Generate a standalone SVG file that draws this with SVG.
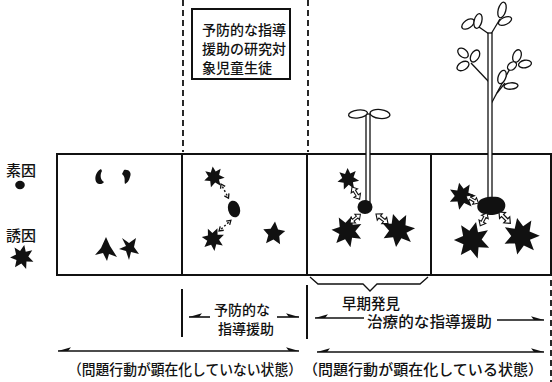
<svg xmlns="http://www.w3.org/2000/svg" width="552" height="382" viewBox="0 0 552 382">
  <style>
    .txt { font-family: "Noto Sans CJK JP", "Noto Sans", sans-serif; fill: #111; font-weight: 500; }
    .frame { fill: none; stroke: #111; stroke-width: 2; }
    .dash { fill: none; stroke: #111; stroke-width: 1.8; stroke-dasharray: 6 4; }
    .thin { fill: none; stroke: #111; stroke-width: 1.3; }
    .leaf { fill: #fff; stroke: #111; stroke-width: 1.3; }
    .blob { fill: #111; }
    .arr { fill: none; stroke: #111; stroke-width: 1.6; }
  </style>
  <defs>
    <!-- half-barbed arrowheads, barb on the upper side -->
    <marker id="hStart" markerUnits="userSpaceOnUse" markerWidth="20" markerHeight="20" refX="0" refY="0" orient="auto" overflow="visible">
      <path d="M0,0 L13,-3.8 L10,0 Z" fill="#111"/>
    </marker>
    <marker id="hEnd" markerUnits="userSpaceOnUse" markerWidth="20" markerHeight="20" refX="0" refY="0" orient="auto" overflow="visible">
      <path d="M0,0 L-13,-3.8 L-10,0 Z" fill="#111"/>
    </marker>
    <!-- irregular spiky factor shape with a solid body -->
    <path id="star" d="M0.5,-10.5 L2.6,-5 L8,-7 L5.4,-1.2 L10.4,2.6 L4.4,3.4 L5,9.8 L0.2,5.6 L-4.8,9.6 L-4.4,3.2 L-10.2,1.8 L-5.4,-1.4 L-7.6,-7.2 L-2.4,-5 Z"/>
    <path id="star5" d="M0,-10.5 L3.4,-3.6 L10,-2.6 L5,2.2 L6.4,9.8 L0,6 L-6.4,9.8 L-5,2.2 L-10,-2.6 L-3.4,-3.6 Z"/>
    <!-- hollow double-headed arrow, 16 long along x -->
    <path id="hollow" d="M0,0 L5,-4.2 L5,-1.4 L11,-1.4 L11,-4.2 L16,0 L11,4.2 L11,1.4 L5,1.4 L5,4.2 Z" fill="#fff" stroke="#111" stroke-width="1.2" stroke-linejoin="miter"/>
    <!-- dotted double-headed arrow, 16 long along x -->
    <g id="dotted">
      <line x1="3" y1="0" x2="13" y2="0" stroke="#111" stroke-width="1.4" stroke-dasharray="2 2"/>
      <path d="M4,-2.6 L0,0 L4,2.6 M12,-2.6 L16,0 L12,2.6" fill="none" stroke="#111" stroke-width="1.3"/>
    </g>
  </defs>

  <!-- legend -->
  <g id="legend-predisposing">
    <text class="txt" x="6" y="176" font-size="15">素因</text>
    <ellipse class="blob" cx="20" cy="185" rx="4.8" ry="4.2"/>
  </g>
  <g id="legend-trigger">
    <text class="txt" x="6" y="241" font-size="15">誘因</text>
    <use href="#star" class="blob" transform="translate(22,257) rotate(8) scale(1.15)"/>
  </g>

  <!-- research-target label box -->
  <g id="target-box">
    <rect x="192" y="9" width="98" height="70" fill="#fff" stroke="#111" stroke-width="2"/>
    <text class="txt" x="202" y="35" font-size="14">予防的な指導</text>
    <text class="txt" x="202" y="54" font-size="14">援助の研究対</text>
    <text class="txt" x="202" y="73" font-size="14">象児童生徒</text>
  </g>

  <!-- stage frames -->
  <g id="frames">
    <line class="frame" x1="57" y1="154" x2="552" y2="154"/>
    <line class="frame" x1="57" y1="275" x2="552" y2="275"/>
    <line class="frame" x1="57" y1="153" x2="57" y2="276"/>
    <line class="frame" x1="182" y1="153" x2="182" y2="276"/>
    <line class="frame" x1="307" y1="153" x2="307" y2="276"/>
    <line class="frame" x1="431" y1="153" x2="431" y2="276"/>
    <line class="frame" x1="551" y1="153" x2="551" y2="276"/>
  </g>

  <!-- stage 1: factors latent -->
  <g id="stage1">
    <path class="blob" d="M101,169 C95,172 94,180 97,183 C99,185 103,184 104,182 C100,180 100,174 102,171 Z"/>
    <path class="blob" d="M124,170 C129,169 132,173 130,177 C129,181 127,183 125,184 C124,181 126,177 122,174 Z"/>
    <path class="blob" d="M106,237 L110,246 L117,257 L109,254 L107,261 L103,253 L95,255 L101,248 Z"/>
    <path class="blob" d="M122,238 L129,243 L136,238 L134,247 L139,254 L131,252 L129,260 L126,251 L119,249 L126,246 Z"/>
  </g>

  <!-- stage 2: factors approaching -->
  <g id="stage2">
    <use href="#star" class="blob" transform="translate(214,177) rotate(-10) scale(1)"/>
    <use href="#star" class="blob" transform="translate(213,239) rotate(20) scale(1.1)"/>
    <use href="#star5" class="blob" transform="translate(274,233) rotate(5) scale(1.1)"/>
    <ellipse class="blob" cx="234" cy="209" rx="6" ry="8.5" transform="rotate(-15 234 209)"/>
    <use href="#dotted" transform="translate(221,184) rotate(62)"/>
    <use href="#dotted" transform="translate(219,231) rotate(-42)"/>
  </g>

  <!-- stage 3: early sprout -->
  <g id="stage3">
    <rect class="leaf" x="366" y="114" width="4" height="88"/>
    <ellipse class="leaf" cx="358" cy="114" rx="9.5" ry="4" transform="rotate(-8 358 114)"/>
    <ellipse class="leaf" cx="380" cy="114" rx="10" ry="4.5" transform="rotate(6 380 114)"/>
    <ellipse class="blob" cx="365" cy="207" rx="7.5" ry="7"/>
    <use href="#star" class="blob" transform="translate(348,179) rotate(-5) scale(1.05)"/>
    <use href="#star" class="blob" transform="translate(347,231) rotate(15) scale(1.5)"/>
    <use href="#star" class="blob" transform="translate(398,230) rotate(-20) scale(1.6)"/>
    <use href="#hollow" transform="translate(352,187) rotate(58) scale(0.9)"/>
    <use href="#hollow" transform="translate(350,223) rotate(-40) scale(0.85)"/>
    <use href="#hollow" transform="translate(376,214) rotate(38) scale(0.95)"/>
  </g>

  <!-- stage 4: grown plant -->
  <g id="stage4">
    <g class="thin">
      <path d="M489,34 L479,27"/>
      <path d="M491,34 L500,19"/>
      <path d="M489,82 L471,63"/>
      <path d="M491,104 L512,65"/>
      <path d="M497,93 L505,83"/>
    </g>
    <rect class="leaf" x="488" y="33" width="4" height="166"/>
    <ellipse class="leaf" cx="468" cy="24" rx="7" ry="4" transform="rotate(-35 468 24)"/>
    <ellipse class="leaf" cx="478" cy="21" rx="3.8" ry="7.5" transform="rotate(15 478 21)"/>
    <ellipse class="leaf" cx="502" cy="10" rx="3.8" ry="8" transform="rotate(15 502 10)"/>
    <ellipse class="leaf" cx="505" cy="21" rx="7" ry="3.6" transform="rotate(-25 505 21)"/>
    <ellipse class="leaf" cx="463" cy="53" rx="6" ry="4" transform="rotate(40 463 53)"/>
    <ellipse class="leaf" cx="475" cy="56" rx="4" ry="6.5" transform="rotate(30 475 56)"/>
    <ellipse class="leaf" cx="463" cy="66" rx="6.5" ry="4" transform="rotate(-30 463 66)"/>
    <ellipse class="leaf" cx="517" cy="56" rx="4" ry="6.5" transform="rotate(20 517 56)"/>
    <ellipse class="leaf" cx="525" cy="64" rx="6.5" ry="3.8" transform="rotate(-10 525 64)"/>
    <ellipse class="leaf" cx="512" cy="66" rx="5" ry="3.5" transform="rotate(-40 512 66)"/>
    <ellipse class="leaf" cx="502" cy="77" rx="3.8" ry="7" transform="rotate(20 502 77)"/>
    <ellipse class="leaf" cx="511" cy="86" rx="7" ry="3.2" transform="rotate(-5 511 86)"/>
    <path class="blob" d="M478,203 C480,197 490,196 498,197 C505,199 507,205 504,210 C500,215 490,216 484,214 C478,212 476,208 478,203 Z"/>
    <use href="#star" class="blob" transform="translate(462,196) rotate(-15) scale(1.3)"/>
    <use href="#star" class="blob" transform="translate(472,240) rotate(10) scale(1.75)"/>
    <use href="#star" class="blob" transform="translate(521,236) rotate(-15) scale(1.75)"/>
    <use href="#hollow" transform="translate(466,196) rotate(30) scale(0.9)"/>
    <use href="#hollow" transform="translate(487,213) rotate(118) scale(0.9)"/>
    <use href="#hollow" transform="translate(499,212) rotate(45) scale(1)"/>
  </g>

  <!-- connectors: dashed guides, ticks, bracket and range arrows -->
  <g id="connectors">
    <line class="dash" x1="183" y1="0" x2="183" y2="152"/>
    <line class="dash" x1="308" y1="0" x2="308" y2="152"/>
    <line class="dash" x1="551" y1="280" x2="551" y2="382"/>
    <line class="frame" x1="182" y1="289" x2="182" y2="337"/>
    <line class="frame" x1="307" y1="285" x2="307" y2="339"/>
    <path class="thin" d="M310,277 L318,284 L363,284 L370,291 L377,284 L420,284 L428,277"/>
    <line class="arr" x1="189" y1="317" x2="210" y2="317" marker-start="url(#hStart)"/>
    <line class="arr" x1="277" y1="317" x2="299" y2="317" marker-end="url(#hEnd)"/>
    <line class="arr" x1="315" y1="318" x2="364" y2="318" marker-start="url(#hStart)"/>
    <line class="arr" x1="497" y1="320" x2="544" y2="320" marker-end="url(#hEnd)"/>
    <line class="arr" x1="58" y1="351" x2="299" y2="351" marker-start="url(#hStart)" marker-end="url(#hEnd)"/>
    <line class="arr" x1="317" y1="352" x2="544" y2="352" marker-start="url(#hStart)" marker-end="url(#hEnd)"/>
  </g>

  <!-- range labels -->
  <g id="labels">
    <text class="txt" x="371" y="309" font-size="14.5" text-anchor="middle">早期発見</text>
    <text class="txt" x="242" y="315" font-size="14" text-anchor="middle">予防的な</text>
    <text class="txt" x="246" y="334" font-size="14" text-anchor="middle">指導援助</text>
    <text class="txt" x="367" y="327" font-size="15" textLength="125" lengthAdjust="spacingAndGlyphs">治療的な指導援助</text>
    <text class="txt" x="68" y="375" font-size="14.5" textLength="234" lengthAdjust="spacingAndGlyphs">（問題行動が顕在化していない状態）</text>
    <text class="txt" x="303" y="375" font-size="14.5" textLength="240" lengthAdjust="spacingAndGlyphs">（問題行動が顕在化している状態）</text>
  </g>
</svg>
